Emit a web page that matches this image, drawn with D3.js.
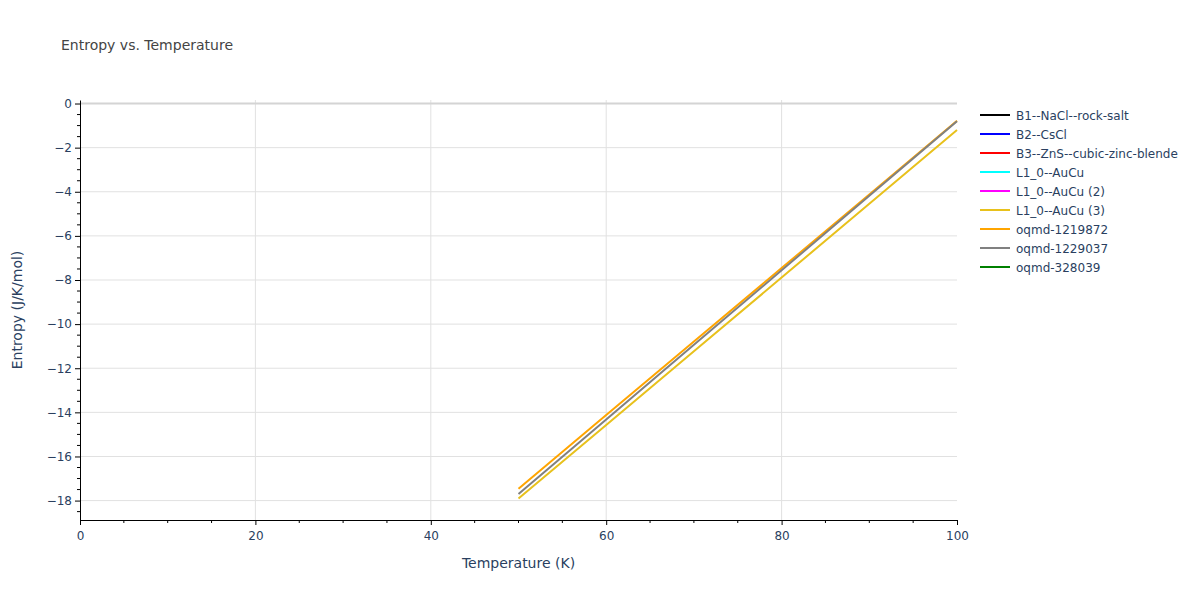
<!DOCTYPE html>
<html lang="en">
<head>
<meta charset="utf-8">
<title>Entropy vs. Temperature</title>
<script src="https://d3js.org/d3.v7.min.js"></script>
<style>
  body { margin: 0; background: #fff; }
  text { font-family: "DejaVu Sans", Verdana, sans-serif; }
  .grid line { stroke: #e1e1e1; stroke-width: 1; }
</style>
</head>
<body>
<svg width="1200" height="600"></svg>
<script>
// temperatures (K)
var temperature = [50, 60, 70, 80, 90, 100];

// entropy values (J/K/mol); empty ones are not visible in the plot
var b1NaCl   = [];
var b2CsCl   = [];
var b3ZnS    = [];
var l10AuCu  = [];
var l10AuCu2 = [];
var l10AuCu3 = [-17.91, -14.57, -11.23, -7.89, -4.54, -1.20];
var oqmd1219872 = [-17.46, -14.12, -10.79, -7.46, -4.12, -0.78];
var oqmd1229037 = [-17.70, -14.32, -10.94, -7.56, -4.18, -0.80];
var oqmd328039  = [];

var seriesNames = ["B1--NaCl--rock-salt", "B2--CsCl", "B3--ZnS--cubic-zinc-blende",
  "L1_0--AuCu", "L1_0--AuCu (2)", "L1_0--AuCu (3)", "oqmd-1219872", "oqmd-1229037", "oqmd-328039"];
var seriesValues = [b1NaCl, b2CsCl, b3ZnS, l10AuCu, l10AuCu2, l10AuCu3, oqmd1219872, oqmd1229037, oqmd328039];
var seriesColors = ["black", "blue", "red", "cyan", "magenta", "#e8c11c", "orange", "gray", "green"];

var xTicks = [0, 20, 40, 60, 80, 100];
var yTicks = [0, -2, -4, -6, -8, -10, -12, -14, -16, -18];

var svg = d3.select("svg"),
    margin = {top: 100, right: 243, bottom: 80, left: 80},
    width = 1200 - margin.left - margin.right,
    height = 600 - margin.top - margin.bottom;

var x = d3.scaleLinear().domain([0, 100]).range([0, width]),
    y = d3.scaleLinear().domain([-18.88, 0.16]).range([height, 0]);

var labelColor = "#2a3f5f";
var fmt = d3.format("");

var g = svg.append("g")
    .attr("transform", "translate(" + margin.left + "," + margin.top + ")");

// grid
g.append("g").attr("class", "grid")
  .selectAll("line").data(xTicks.filter(function(d) { return d > 0 && d < 100; }))
  .enter().append("line")
    .attr("x1", function(d) { return x(d); }).attr("x2", function(d) { return x(d); })
    .attr("y1", 0).attr("y2", height);

g.append("g").attr("class", "grid")
  .selectAll("line").data(yTicks)
  .enter().append("line")
    .attr("x1", 0).attr("x2", width)
    .attr("y1", function(d) { return y(d); }).attr("y2", function(d) { return y(d); })
    .style("stroke-width", function(d) { return d === 0 ? 2 : 1; })
    .style("stroke", function(d) { return d === 0 ? "#d4d4d4" : null; });

// lines
var line = d3.line()
    .x(function(d, i) { return x(temperature[i]); })
    .y(function(d) { return y(d); });

seriesValues.forEach(function(vals, i) {
  if (!vals.length) return;
  g.append("path")
    .datum(vals)
    .attr("fill", "none")
    .attr("stroke", seriesColors[i])
    .attr("stroke-width", 2)
    .attr("d", line);
});

// axes
var xAxis = g.append("g")
    .attr("transform", "translate(0," + height + ")")
    .call(d3.axisBottom(x).tickValues(xTicks).tickFormat(fmt).tickSizeInner(5).tickSizeOuter(0).tickPadding(6));
xAxis.append("g").selectAll("line")
  .data(d3.range(5, 100, 5).filter(function(d) { return d % 20 !== 0; }))
  .enter().append("line")
    .attr("x1", function(d) { return x(d); }).attr("x2", function(d) { return x(d); })
    .attr("y1", 0).attr("y2", 3).attr("stroke", "black");

var yAxis = g.append("g")
    .call(d3.axisLeft(y).tickValues(yTicks).tickFormat(fmt).tickSizeInner(5).tickSizeOuter(0).tickPadding(3));
yAxis.append("g").selectAll("line")
  .data(d3.range(-18.5, 0, 0.5).filter(function(d) { return d % 2 !== 0; }))
  .enter().append("line")
    .attr("x1", 0).attr("x2", -3)
    .attr("y1", function(d) { return y(d); }).attr("y2", function(d) { return y(d); })
    .attr("stroke", "black");

[xAxis, yAxis].forEach(function(a) {
  a.select(".domain").attr("stroke", "black");
  a.selectAll(".tick line").attr("stroke", "black");
  a.selectAll(".tick text").attr("fill", labelColor).style("font-size", "12px")
    .style("font-family", "'DejaVu Sans', sans-serif");
});

// titles
svg.append("text")
    .attr("x", 61).attr("y", 50)
    .attr("fill", "#444")
    .style("font-size", "14px")
    .text("Entropy vs. Temperature");

svg.append("text")
    .attr("x", margin.left + width / 2).attr("y", 568)
    .attr("text-anchor", "middle")
    .attr("fill", labelColor)
    .style("font-size", "14px")
    .text("Temperature (K)");

svg.append("text")
    .attr("transform", "translate(22," + (margin.top + height / 2) + ") rotate(-90)")
    .attr("text-anchor", "middle")
    .attr("fill", labelColor)
    .style("font-size", "14px")
    .text("Entropy (J/K/mol)");

// legend
var legend = svg.append("g").attr("transform", "translate(980,115)");
var item = legend.selectAll("g").data(seriesNames).enter().append("g")
    .attr("transform", function(d, i) { return "translate(0," + (i * 19) + ")"; });
item.append("line")
    .attr("x1", 0).attr("x2", 30).attr("y1", 0).attr("y2", 0)
    .attr("stroke", function(d, i) { return seriesColors[i]; })
    .attr("stroke-width", 2);
item.append("text")
    .attr("x", 36).attr("y", 4.5)
    .attr("fill", labelColor)
    .style("font-size", "12px")
    .text(function(d) { return d; });
</script>
</body>
</html>
